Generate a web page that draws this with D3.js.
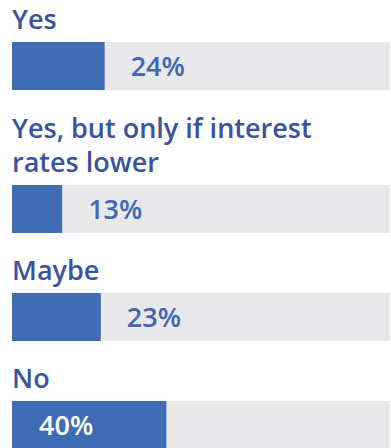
<!DOCTYPE html>
<html><head><meta charset="utf-8">
<script src="https://cdn.jsdelivr.net/npm/d3@7"></script>
<style>html,body{margin:0;padding:0;background:#fff;overflow:hidden}</style>
</head><body>
<svg id="c" width="391" height="448"></svg>
<script>
const categories = ["Yes", "Yes, but only if interest rates lower", "Maybe", "No"];
const labelLines = [["Yes"], ["Yes, but only if interest", "rates lower"], ["Maybe"], ["No"]];
const values = [24, 13, 23, 40];

const svg = d3.select("#c");
const font = "'Open Sans', sans-serif";
const x = d3.scaleLinear().domain([0, 100]).range([12, 398]);
const barTops = [42, 185, 293, 401];
const barH = 48;
const lineH = 34;

const g = svg.selectAll("g.row").data(categories).join("g").attr("class", "row");

g.append("rect").attr("x", x(0)).attr("y", (d, i) => barTops[i]).attr("width", 390 - x(0)).attr("height", barH).attr("fill", "#e9e9eb");
g.append("rect").attr("x", x(0)).attr("y", (d, i) => barTops[i]).attr("width", (d, i) => x(values[i]) - x(0)).attr("height", barH).attr("fill", "#3f6db3");

g.each(function(d, i) {
  const lines = labelLines[i];
  const sel = d3.select(this);
  lines.forEach((ln, j) => {
    sel.append("text").attr("x", 12)
      .attr("y", barTops[i] - 13 - (lines.length - 1 - j) * lineH)
      .attr("font-family", font).attr("font-size", 27).attr("font-weight", 600)
      .attr("fill", "#3b539f").text(ln);
  });
  const inside = values[i] > 30;
  sel.append("text")
    .attr("x", inside ? x(0) + 27 : x(values[i]) + 26)
    .attr("y", barTops[i] + barH / 2 + 10)
    .attr("font-family", font).attr("font-size", 27).attr("font-weight", 600)
    .attr("fill", inside ? "#ffffff" : "#4068b3")
    .text(values[i] + "%");
});
</script>
</body></html>
